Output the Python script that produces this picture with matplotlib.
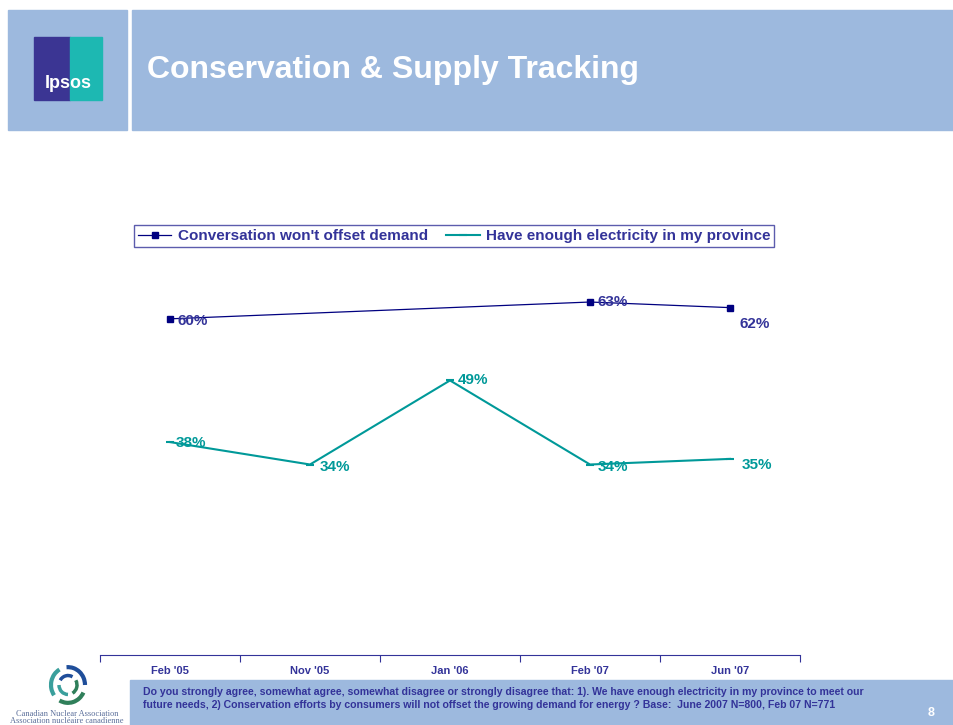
import numpy as np
import matplotlib.pyplot as plt
from matplotlib.patches import Rectangle, Arc

plt.rcParams['font.family'] = ['Liberation Sans', 'DejaVu Sans']

# data
waves = ["Feb '05", "Nov '05", "Jan '06", "Feb '07", "Jun '07"]
conserve_idx = [0, 3, 4]
conserve_vals = [60, 63, 62]
supply_idx = [0, 1, 2, 3, 4]
supply_vals = [38, 34, 49, 34, 35]

NAVY = '#000080'
NAVY_TXT = '#333399'
TEAL = '#009999'
HEAD = '#9DB9DE'

fig = plt.figure(figsize=(9.54, 7.25), dpi=100)
W, H = 954, 725


def fx(x):
    return x / W


def fy(y):
    return 1 - y / H


# header bands
fig.patches.append(Rectangle((fx(8), fy(130)), fx(119), 120 / H, transform=fig.transFigure,
                             color=HEAD, zorder=0))
fig.patches.append(Rectangle((fx(132), fy(130)), fx(822), 120 / H, transform=fig.transFigure,
                             color=HEAD, zorder=0))
# ipsos logo
fig.patches.append(Rectangle((fx(34), fy(100)), fx(36), 63 / H, transform=fig.transFigure,
                             color='#3B3593', zorder=1))
fig.patches.append(Rectangle((fx(70), fy(100)), fx(32), 63 / H, transform=fig.transFigure,
                             color='#1DB8B2', zorder=1))
fig.text(fx(68), fy(83), 'Ipsos', color='white', fontsize=13, fontweight='bold',
         ha='center', va='center', zorder=2)
fig.text(fx(147), fy(70), 'Conservation & Supply Tracking', color='white', fontsize=23,
         fontweight='bold', ha='left', va='center')

# chart
ax = fig.add_axes([fx(100), fy(655), fx(700), 395 / H])
ax.plot(conserve_idx, conserve_vals, color=NAVY, lw=0.9, marker='s', ms=4.5,
        label="Conversation won't offset demand")
ax.plot(supply_idx, supply_vals, color=TEAL, lw=1.5, marker='_', ms=6, mew=1.5,
        label='Have enough electricity in my province')

c_off = [(8, -2), (8, 0), (10, -16)]
for i, v, (dx, dy) in zip(conserve_idx, conserve_vals, c_off):
    ax.annotate('%d%%' % v, (i, v), xytext=(dx, dy), textcoords='offset pixels',
                ha='left', va='center', color=NAVY_TXT, fontsize=11, fontweight='bold')
s_off = [(6, -1), (10, -2), (8, 0), (8, -2), (12, -6)]
for i, v, (dx, dy) in zip(supply_idx, supply_vals, s_off):
    ax.annotate('%d%%' % v, (i, v), xytext=(dx, dy), textcoords='offset pixels',
                ha='left', va='center', color=TEAL, fontsize=11, fontweight='bold')

ax.set_xlim(-0.5, 4.5)
ax.set_ylim(0, 70.5)
for s in ['top', 'right', 'left']:
    ax.spines[s].set_visible(False)
ax.spines['bottom'].set_color('#333399')
ax.set_yticks([])
ax.set_xticks(np.arange(-0.5, 5, 1))
ax.set_xticklabels([])
ax.set_xticks(np.arange(len(waves)), minor=True)
ax.set_xticklabels(waves, minor=True, fontsize=8, fontweight='bold', color=NAVY_TXT)
ax.tick_params(axis='x', which='major', length=5, color='#333399', direction='out')
ax.tick_params(axis='x', which='minor', length=0, pad=8)

leg = fig.legend(loc='center', bbox_to_anchor=(fx(454), fy(236)), ncol=2, frameon=True,
                 fancybox=False, prop={'weight': 'bold', 'size': 11}, handlelength=2.2,
                 borderpad=0.25, columnspacing=1.2, handletextpad=0.4)
leg.get_frame().set_edgecolor('#333399')
leg.get_frame().set_linewidth(1)
for t in leg.get_texts():
    t.set_color(NAVY_TXT)

# footer
fig.patches.append(Rectangle((fx(130), 0), fx(824), 45 / H, transform=fig.transFigure,
                             color=HEAD, zorder=0))
fig.text(fx(143), fy(692), 'Do you strongly agree, somewhat agree, somewhat disagree or strongly disagree '
         'that: 1). We have enough electricity in my province to meet our', fontsize=7.6,
         fontweight='bold', color=NAVY_TXT, va='center')
fig.text(fx(143), fy(705), 'future needs, 2) Conservation efforts by consumers will not offset the growing '
         'demand for energy ? Base:  June 2007 N=800, Feb 07 N=771', fontsize=7.6,
         fontweight='bold', color=NAVY_TXT, va='center')
fig.text(fx(931), fy(713), '8', fontsize=9, fontweight='bold', color='white', ha='center', va='center')

# canadian nuclear association logo
lax = fig.add_axes([fx(48), fy(706), fx(40), 42 / H])
lax.set_xlim(-1, 1)
lax.set_ylim(-1, 1)
lax.axis('off')
for ang, col in [(0, '#1F4E9A'), (120, '#3A9F9C'), (240, '#2F7F5A')]:
    lax.add_patch(Arc((0, 0), 1.7, 1.7, theta1=ang, theta2=ang + 95, color=col, lw=3))
    lax.add_patch(Arc((0, 0), 0.9, 0.9, theta1=ang + 60, theta2=ang + 150, color=col, lw=2.5))
fig.text(fx(67), fy(714), 'Canadian Nuclear Association', fontsize=6, color='#5A6E9A',
         family='Liberation Serif', ha='center', va='center')
fig.text(fx(67), fy(721), 'Association nucléaire canadienne', fontsize=6, color='#5A6E9A',
         family='Liberation Serif', ha='center', va='center')

fig.savefig('out.png', dpi=100)
